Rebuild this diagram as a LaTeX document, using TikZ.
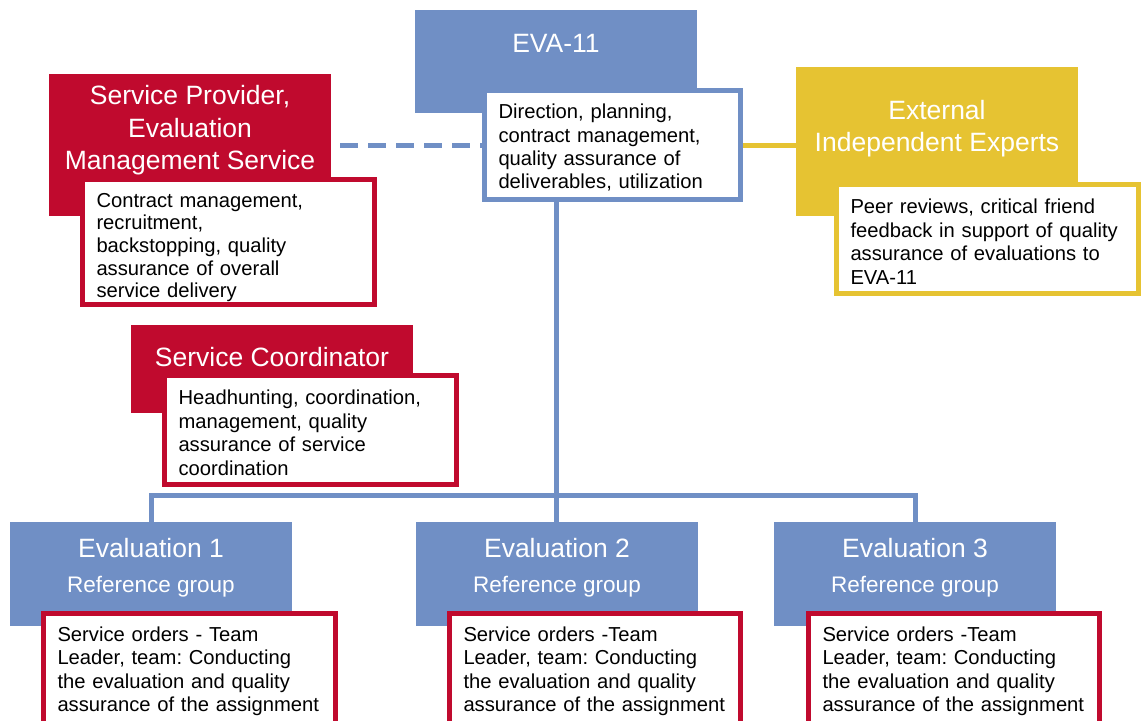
\documentclass[tikz,border=0pt]{standalone}
\usepackage{fontspec}
\setmainfont{Liberation Sans}
\usetikzlibrary{positioning}
\frenchspacing
\definecolor{evablue}{HTML}{708FC5}
\definecolor{spred}{HTML}{C00A2E}
\definecolor{expyellow}{HTML}{E6C332}
\newcommand\headfont{\fontsize{26.5pt}{32.5pt}\selectfont}
\newcommand\reffont{\fontsize{22.5pt}{27pt}\selectfont}
\newcommand\descfont{\fontsize{20.2pt}{23.4pt}\selectfont}
\tikzset{
  head/.style={fill=#1, minimum width=282pt, inner sep=0pt, outer sep=0pt, anchor=north west},
  title/.style={text=white, font=\headfont, align=center, inner sep=0pt},
  desc/.style={draw=#1, fill=white, line width=5pt, font=\descfont, align=left,
    inner xsep=14pt, inner ysep=0pt, anchor=north west,
    execute at begin node={\rule{0pt}{20pt}}},
  link/.style={draw=#1, line width=5pt},
}
\begin{document}
\begin{tikzpicture}[x=1pt, y=-1pt]
   \useasboundingbox (0,0) rectangle (1142,720);
   \clip (0,0) rectangle (1142,720);
   % heads
   \node (eva) [head=evablue, minimum height=103pt] at (415,10)  {};
   \node (sp)  [head=spred, minimum height=142pt]   at (49,74)   {};
   \node (ext) [head=expyellow, minimum height=149pt] at (796,67) {};
   \node (sc)  [head=spred, minimum height=88pt]    at (131,325) {};
   \node (ev1) [head=evablue, minimum height=104pt] at (10,522)  {};
   \node (ev2) [head=evablue, minimum height=104pt] at (416,522) {};
   \node (ev3) [head=evablue, minimum height=104pt] at (774,522) {};
   % titles
   \node (evatitle) [title, below=24.3pt of eva.north] {EVA-11};
   \node (sptitle)  [title, below=11.5pt of sp.north]  {Service Provider,\\Evaluation\\Management Service};
   \node (exttitle) [title, below=33pt of ext.north]   {External\\Independent Experts};
   \node (sctitle)  [title, below=22pt of sc.north]    {Service Coordinator};
   \node (ev1title) [title, below=15.7pt of ev1.north] {Evaluation 1};
   \node (ev2title) [title, below=15.7pt of ev2.north] {Evaluation 2};
   \node (ev3title) [title, below=15.7pt of ev3.north] {Evaluation 3};
   \node (ev1ref) [title, font=\reffont, below=18.6pt of ev1title] {Reference group};
   \node (ev2ref) [title, font=\reffont, below=18.6pt of ev2title] {Reference group};
   \node (ev3ref) [title, font=\reffont, below=18.6pt of ev3title] {Reference group};
   % descriptions
   \node (evad) [desc=evablue, text width=228pt, minimum height=109pt] at (482,88)
     {Direction, planning,\\contract management,\\quality assurance of\\deliverables, utilization};
   \node (spd) [desc=spred, text width=264pt, minimum height=125pt,
     font=\fontsize{20.2pt}{22.6pt}\selectfont,
     execute at begin node={\rule{0pt}{25pt}}] at (80,177)
     {Contract management,\\recruitment,\\backstopping, quality\\assurance of overall\\service delivery};
   \node (extd) [desc=expyellow, text width=274pt, minimum height=109pt,
     execute at begin node={\rule{0pt}{17pt}}] at (834,182)
     {Peer reviews, critical friend\\feedback in support of quality\\assurance of evaluations to\\EVA-11};
   \node (scd) [desc=spred, text width=264pt, minimum height=109pt] at (162,373)
     {Headhunting, coordination,\\management, quality\\assurance of service\\coordination};
   \node (ev1d) [desc=spred, text width=264pt, minimum height=110pt] at (41,611)
     {Service orders - Team\\Leader, team: Conducting\\the evaluation and quality\\assurance of the assignment};
   \node (ev2d) [desc=spred, text width=263pt, minimum height=110pt] at (447,611)
     {Service orders -Team\\Leader, team: Conducting\\the evaluation and quality\\assurance of the assignment};
   \node (ev3d) [desc=spred, text width=263pt, minimum height=110pt] at (806,611)
     {Service orders -Team\\Leader, team: Conducting\\the evaluation and quality\\assurance of the assignment};
   % links
   \coordinate (bus) at (556,495);
   \draw[link=evablue, dash pattern=on 18pt off 10pt, shorten <=9pt] (sp.east) -- (sp.east -| evad.west);
   \draw[link=expyellow] (evad.east) -- (evad.east -| ext.west);
   \draw[link=evablue] (eva.south |- evad.south) -- (bus);
   \draw[link=evablue] (ev1.north) |- (bus) -| (ev3.north);
   \draw[link=evablue] (bus) -- (bus |- ev2.north);
\end{tikzpicture}
\end{document}
